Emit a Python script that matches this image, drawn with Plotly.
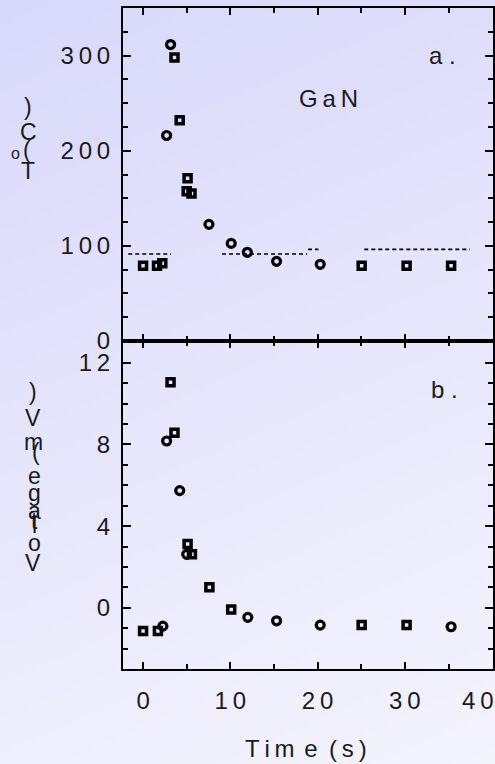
import base64, struct, zlib
import plotly.graph_objects as go

# ---------------- data ----------------
# panel a: temperature (deg C) vs time (s)
a_sq_time = [0.0, 1.6, 2.2, 3.6, 4.2, 5.1, 5.0, 5.55, 25.05, 30.2, 35.3]
a_sq_temp = [79, 79, 81.6, 298, 232, 171, 157.5, 155, 79, 79, 79]
a_ci_time = [2.7, 3.15, 7.55, 10.1, 11.95, 15.3, 20.3]
a_ci_temp = [216, 311.6, 122.6, 102.6, 93.2, 83.7, 80.6]
a_ref_time = [-1.7, 3.2, None, 9.05, 18.8, None, 18.9, 20.1, None, 25.35, 37.45]
a_ref_temp = [91.4, 91.4, None, 91.4, 91.4, None, 96.3, 96.3, None, 96.3, 96.3]

# panel b: voltage (mV) vs time (s)
b_sq_time = [0.0, 1.7, 3.15, 3.6, 5.1, 5.6, 7.6, 10.1, 25.05, 30.2]
b_sq_volt = [-1.14, -1.14, 11.05, 8.58, 3.12, 2.62, 1.0, -0.08, -0.85, -0.85]
b_ci_time = [2.27, 2.7, 4.2, 5.0, 12.0, 15.3, 20.3, 35.3]
b_ci_volt = [-0.9, 8.17, 5.74, 2.62, -0.47, -0.64, -0.85, -0.93]

x_tickvals = [0, 10, 20, 30, 40]
x_ticktext = ["0", "1\u20090", "2\u20090", "3\u20090", ""]
x_last_label = "4\u20090"
a_tickvals = [0, 100, 200, 300]
a_ticktext = ["0", "1\u20090\u20090", "2\u20090\u20090", "3\u20090\u20090"]
b_tickvals = [0, 4, 8, 12]
b_ticktext = ["0", "4", "8", "1\u20092"]

W, H = 495, 764
FONT = "Liberation Sans, Arial, sans-serif"
TXT = "#1a1a1a"


def gradient_png(w, h):
    top = (216, 216, 251)
    bot = (244, 244, 253)
    rows = []
    for j in range(h):
        row = bytearray([0])
        for i in range(w):
            t = 0.78 * j / (h - 1) + 0.22 * i / (w - 1)
            row += bytes(int(round(top[k] + (bot[k] - top[k]) * t)) for k in range(3))
        rows.append(bytes(row))
    raw = b"".join(rows)

    def chunk(tag, data):
        c = tag + data
        return struct.pack(">I", len(data)) + c + struct.pack(">I", zlib.crc32(c) & 0xffffffff)

    png = b"\x89PNG\r\n\x1a\n"
    png += chunk(b"IHDR", struct.pack(">IIBBBBB", w, h, 8, 2, 0, 0, 0))
    png += chunk(b"IDAT", zlib.compress(raw, 9))
    png += chunk(b"IEND", b"")
    return "data:image/png;base64," + base64.b64encode(png).decode()


def px(x):
    return x / W


def py(y):
    return 1 - y / H


fig = go.Figure()
sq_marker = dict(symbol="square-open", size=7, color="black", line=dict(width=3.5, color="black"))
ci_marker = dict(symbol="circle-open", size=8, color="black", line=dict(width=3.2, color="black"))
fig.add_trace(go.Scatter(x=a_ref_time, y=a_ref_temp, mode="lines", xaxis="x", yaxis="y",
                         line=dict(color="black", width=1.6, dash="4px,3px"), showlegend=False))
fig.add_trace(go.Scatter(x=a_sq_time, y=a_sq_temp, mode="markers", xaxis="x", yaxis="y",
                         marker=sq_marker, showlegend=False))
fig.add_trace(go.Scatter(x=a_ci_time, y=a_ci_temp, mode="markers", xaxis="x", yaxis="y",
                         marker=ci_marker, showlegend=False))
fig.add_trace(go.Scatter(x=b_sq_time, y=b_sq_volt, mode="markers", xaxis="x2", yaxis="y2",
                         marker=sq_marker, showlegend=False))
fig.add_trace(go.Scatter(x=b_ci_time, y=b_ci_volt, mode="markers", xaxis="x2", yaxis="y2",
                         marker=ci_marker, showlegend=False))

xdom = [px(123), px(493)]
dom_a = [py(341), py(8)]
dom_b = [py(669), py(341)]
XR = [-2.3, 40.1]
common_axis = dict(showline=True, linecolor="black", linewidth=2, mirror="ticks",
                   ticks="inside", tickcolor="black", tickwidth=2, showgrid=False,
                   zeroline=False, tickfont=dict(family=FONT, size=24, color=TXT))
fig.update_layout(
    width=W, height=H, autosize=False,
    margin=dict(l=0, r=0, t=0, b=0, pad=0, autoexpand=False),
    paper_bgcolor="rgb(242,242,253)", plot_bgcolor="rgba(0,0,0,0)",
    images=[dict(source=gradient_png(100, 152), xref="paper", yref="paper", x=0, y=1,
                 sizex=1, sizey=1, sizing="stretch", layer="below", xanchor="left", yanchor="top")],
    xaxis=dict(domain=xdom, range=XR, anchor="y", tickvals=x_tickvals, showticklabels=False, ticklen=7,
               minor=dict(dtick=5, ticks="inside", ticklen=5, tickcolor="black", tickwidth=1.5), **common_axis),
    yaxis=dict(domain=dom_a, range=[0, 350], anchor="x", tickvals=a_tickvals, ticktext=a_ticktext,
               ticklen=8, ticklabelstandoff=6,
               minor=dict(dtick=25, ticks="inside", ticklen=5, tickcolor="black", tickwidth=1.5), **common_axis),
    xaxis2=dict(domain=xdom, range=XR, anchor="y2", tickvals=x_tickvals, ticktext=x_ticktext,
                ticklen=7, ticklabelstandoff=9,
                minor=dict(dtick=5, ticks="inside", ticklen=5, tickcolor="black", tickwidth=1.5), **common_axis),
    yaxis2=dict(domain=dom_b, range=[-3.0, 13.07], anchor="x2", tickvals=b_tickvals, ticktext=b_ticktext,
                ticklen=8, ticklabelstandoff=6,
                minor=dict(dtick=1, ticks="inside", ticklen=5, tickcolor="black", tickwidth=1.5), **common_axis),
)
annotations = []


def text(x, y, s, size=24):
    annotations.append(dict(x=px(x), y=py(y), xref="paper", yref="paper", text=s, showarrow=False,
                            font=dict(family=FONT, size=size, color=TXT), xanchor="center", yanchor="middle"))


text(442, 56, "a .", 24)
text(328, 98, "G\u2009a\u2009N", 24)
text(444, 389, "b .", 24)
text(306, 748, "T\u2009i\u2009m\u2009\u2009e\u2009 (\u2009s\u2009)", 24)
# last x tick label, kept inside the page edge as in the original
annotations.append(dict(x=x_tickvals[-1], xref="x2", y=py(700), yref="paper", text=x_last_label,
                        showarrow=False, xanchor="right", yanchor="middle", xshift=4,
                        font=dict(family=FONT, size=24, color=TXT)))
# stacked (garbled) y-axis titles, as in the original figure
for ch, x, y, s in [(")", 28, 107, 23), ("C", 28, 132, 23), ("(", 27, 150, 23),
                    ("o", 15, 153, 16), ("T", 28, 171, 23)]:
    text(x, y, ch, s)
for ch, x, y, s in [(")", 33, 392, 23), ("V", 33, 418, 23), ("m", 33, 442, 23), ("(", 36, 452, 23),
                    ("e", 34, 476, 23), ("g", 34, 493, 23), ("a", 34, 511, 23), ("t", 34, 521, 23),
                    ("l", 34, 525, 23), ("o", 34, 543, 23), ("V", 33, 563, 23)]:
    text(x, y, ch, s)
fig.update_layout(annotations=annotations)

fig.write_html("out.html")
